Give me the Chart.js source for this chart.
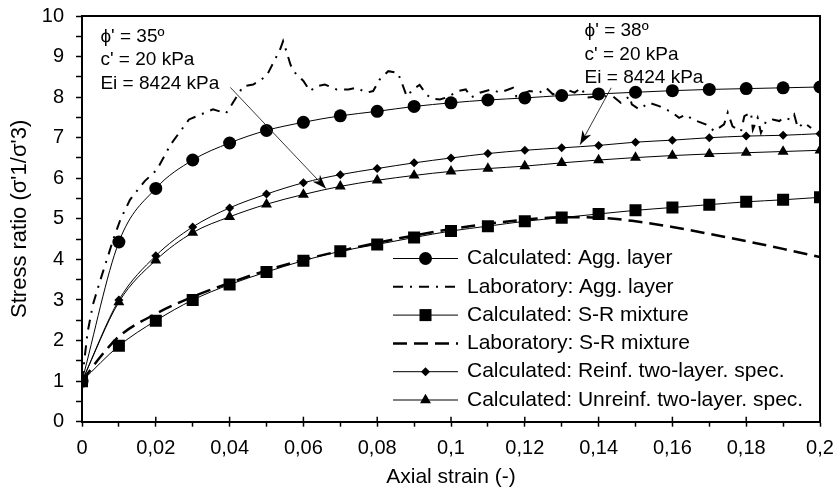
<!DOCTYPE html>
<html><head><meta charset="utf-8">
<script src="https://cdn.jsdelivr.net/npm/chart.js@4.4.1/dist/chart.umd.min.js"></script>
<style>html,body{margin:0;padding:0;background:#fff}#wrap{width:837px;height:490px}</style>
</head><body><div id="wrap"><canvas id="c" width="837" height="490"></canvas></div>
<script>
// ---- data ----
const strain = [0,0.01,0.02,0.03,0.04,0.05,0.06,0.07,0.08,0.09,0.10,0.11,0.12,0.13,0.14,0.15,0.16,0.17,0.18,0.19,0.20];
const calcAgg = [1,4.43,5.75,6.45,6.87,7.18,7.38,7.54,7.65,7.77,7.86,7.93,7.98,8.04,8.08,8.12,8.16,8.19,8.21,8.23,8.25];
const calcSR = [1,1.87,2.49,3.0,3.38,3.69,3.97,4.2,4.37,4.54,4.7,4.82,4.94,5.03,5.12,5.21,5.28,5.35,5.42,5.47,5.53];
const calcReinf = [1,3.0,4.09,4.8,5.27,5.61,5.89,6.09,6.24,6.38,6.5,6.61,6.69,6.75,6.81,6.89,6.94,7.0,7.04,7.06,7.1];
const calcUnreinf = [1,2.95,3.98,4.66,5.05,5.36,5.6,5.8,5.95,6.07,6.17,6.24,6.3,6.38,6.45,6.51,6.56,6.6,6.63,6.66,6.69];

const labAggStrain = [0,0.0015,0.003,0.005,0.0085,0.0104,0.013,0.017,0.0203,0.024,0.029,0.0355,0.039,0.0406,0.0437,0.0464,0.05,0.0537,0.0545,0.0555,0.0565,0.0573,0.06,0.0618,0.0636,0.0658,0.069,0.0722,0.0744,0.0771,0.0789,0.0807,0.083,0.0856,0.087,0.088,0.0897,0.0915,0.0935,0.095,0.097,0.099,0.102,0.104,0.1055,0.1078,0.111,0.1132,0.1168,0.1177,0.1213,0.124,0.1258,0.1276,0.1313,0.1335,0.1353,0.1367,0.1403,0.1439,0.146,0.1484,0.149,0.151,0.1537,0.1564,0.16,0.1618,0.1636,0.1655,0.169,0.1714,0.174,0.175,0.1763,0.1786,0.1795,0.1813,0.1818,0.1831,0.184,0.1854,0.1872,0.189,0.19,0.192,0.193,0.194,0.1957,0.1976];
const labAggRatio = [1,2.2,2.9,3.5,4.5,4.98,5.47,5.93,6.21,6.83,7.45,7.7,7.6,7.82,8.27,8.31,8.52,9.18,9.38,9.1,8.8,8.64,8.4,8.15,8.27,8.31,8.19,8.19,8.23,8.11,8.15,8.44,8.64,8.6,8.27,8.02,8.19,8.3,8.05,7.96,7.94,8.0,8.15,8.19,7.99,8.11,8.19,8.11,8.23,8.02,8.15,8.11,8.23,8.07,8.19,8.11,8.23,7.99,8.02,8.02,7.86,8.02,7.82,7.7,7.86,7.78,7.62,7.49,7.57,7.45,7.33,7.16,7.33,7.62,7.28,7.16,7.53,7.62,7.2,7.49,7.12,7.41,7.45,7.41,7.49,7.45,7.57,7.24,7.37,7.24];

const labSRStrain = [0,0.005,0.01,0.02,0.03,0.04,0.05,0.06,0.07,0.08,0.09,0.10,0.11,0.12,0.13,0.14,0.15,0.16,0.17,0.18,0.19,0.20];
const labSRRatio = [1,1.6,2.1,2.66,3.08,3.42,3.73,3.99,4.21,4.41,4.59,4.75,4.88,4.98,5.04,5.03,4.94,4.8,4.63,4.45,4.26,4.06];

const xTickLabels = ['0','0,02','0,04','0,06','0,08','0,1','0,12','0,14','0,16','0,18','0,2'];
const yTickLabels = ['0','1','2','3','4','5','6','7','8','9','10'];

const seriesNames = ['Calculated: Agg. layer','Laboratory: Agg. layer','Calculated: S-R mixture','Laboratory: S-R mixture','Calculated: Reinf. two-layer. spec.','Calculated: Unreinf. two-layer. spec.'];

const note1 = ["\u03D5' = 35\u00BA", "c' = 20 kPa", "Ei = 8424 kPa"];
const note2 = ["\u03D5' = 38\u00BA", "c' = 20 kPa", "Ei = 8424 kPa"];
const note1Anchor = [0.005, 9.49];
const note2Anchor = [0.1362, 9.63];
const arrow1 = [[0.0402, 8.24], [0.0661, 5.75]];
const arrow2 = [[0.1434, 8.23], [0.1350, 6.83]];

// ---- build ----
const FONT = "'Liberation Sans', Arial, sans-serif";
const pts = (xs, ys) => xs.map((x, i) => ({x, y: ys[i]}));
const DASHDOT = [10, 7, 2, 7];
const DASH = [14, 7];

const datasets = [
  {label: seriesNames[0], data: pts(strain, calcAgg), borderColor:'#000', backgroundColor:'#000', borderWidth:1, pointStyle:'circle', pointRadius:6.5, pointBorderWidth:0, cubicInterpolationMode:'monotone'},
  {label: seriesNames[1], data: pts(labAggStrain, labAggRatio), borderColor:'#000', borderWidth:2, borderDash:DASHDOT, pointRadius:0, tension:0},
  {label: seriesNames[2], data: pts(strain, calcSR), borderColor:'#000', backgroundColor:'#000', borderWidth:1, pointStyle:'rect', pointRadius:8.5, pointBorderWidth:0, cubicInterpolationMode:'monotone'},
  {label: seriesNames[3], data: pts(labSRStrain, labSRRatio), borderColor:'#000', borderWidth:2.5, borderDash:DASH, pointRadius:0, cubicInterpolationMode:'monotone'},
  {label: seriesNames[4], data: pts(strain, calcReinf), borderColor:'#000', backgroundColor:'#000', borderWidth:1, pointStyle:'rectRot', pointRadius:4.5, pointBorderWidth:0, cubicInterpolationMode:'monotone'},
  {label: seriesNames[5], data: pts(strain, calcUnreinf), borderColor:'#000', backgroundColor:'#000', borderWidth:1, pointStyle:'triangle', pointRadius:6.3, pointBorderWidth:0, cubicInterpolationMode:'monotone'}
];

function drawMarker(ctx, style, r, x, y) {
  ctx.beginPath();
  if (style === 'circle') { ctx.arc(x, y, r, 0, Math.PI*2); }
  else if (style === 'rect') { const s = Math.SQRT1_2*r; ctx.rect(x-s, y-s, 2*s, 2*s); }
  else if (style === 'rectRot') { ctx.moveTo(x-r,y); ctx.lineTo(x,y-r); ctx.lineTo(x+r,y); ctx.lineTo(x,y+r); ctx.closePath(); }
  else if (style === 'triangle') {
    let a = 0;
    ctx.moveTo(x + Math.sin(a)*r, y - Math.cos(a)*r);
    a += 2*Math.PI/3; ctx.lineTo(x + Math.sin(a)*r, y - Math.cos(a)*r);
    a += 2*Math.PI/3; ctx.lineTo(x + Math.sin(a)*r, y - Math.cos(a)*r);
    ctx.closePath();
  }
  ctx.fill();
}

function drawArrow(ctx, x1, y1, x2, y2) {
  ctx.save();
  ctx.strokeStyle = '#222'; ctx.fillStyle = '#000'; ctx.lineWidth = 0.9; ctx.setLineDash([]);
  ctx.beginPath(); ctx.moveTo(x1, y1); ctx.lineTo(x2, y2); ctx.stroke();
  const ang = Math.atan2(y2-y1, x2-x1), L = 14, W = 5;
  const bx = x2 - Math.cos(ang)*L, by = y2 - Math.sin(ang)*L;
  const nx = -Math.sin(ang), ny = Math.cos(ang);
  const mx = x2 - Math.cos(ang)*L*0.7, my = y2 - Math.sin(ang)*L*0.7;
  ctx.beginPath();
  ctx.moveTo(x2, y2);
  ctx.lineTo(bx + nx*W, by + ny*W);
  ctx.lineTo(mx, my);
  ctx.lineTo(bx - nx*W, by - ny*W);
  ctx.closePath(); ctx.fill();
  ctx.restore();
}

const extras = {
  id: 'extras',
  afterDraw(chart) {
    const ctx = chart.ctx, a = chart.chartArea, xs = chart.scales.x, ys = chart.scales.y;
    ctx.save();
    ctx.strokeStyle = '#000'; ctx.lineWidth = 2; ctx.setLineDash([]);
    ctx.beginPath(); ctx.moveTo(a.left, a.top); ctx.lineTo(a.right, a.top); ctx.lineTo(a.right, a.bottom); ctx.stroke();
    ctx.lineWidth = 1.5;
    xs.ticks.forEach(t => {
      const i = Math.round(t.value*100);
      if (i % 2 === 0 && i > 0 && i < 20) {
        const px = xs.getPixelForValue(t.value);
        ctx.beginPath(); ctx.moveTo(px, a.bottom); ctx.lineTo(px, a.bottom - 5); ctx.stroke();
      }
    });
    ctx.fillStyle = '#000'; ctx.font = '19px ' + FONT; ctx.textBaseline = 'middle'; ctx.textAlign = 'left';
    const drawNote = (lines, anc) => {
      const px = xs.getPixelForValue(anc[0]), py = ys.getPixelForValue(anc[1]);
      lines.forEach((s, i) => ctx.fillText(s, px, py + i*23.3));
    };
    drawNote(note1, note1Anchor);
    drawNote(note2, note2Anchor);
    [arrow1, arrow2].forEach(ar => drawArrow(ctx, xs.getPixelForValue(ar[0][0]), ys.getPixelForValue(ar[0][1]), xs.getPixelForValue(ar[1][0]), ys.getPixelForValue(ar[1][1])));
    const lx0 = 393, lx1 = 458, tx = 467, ly0 = 258.5, step = 28.3;
    ctx.font = '21px ' + FONT;
    chart.data.datasets.forEach((ds, i) => {
      const y = ly0 + i*step;
      ctx.strokeStyle = '#000'; ctx.lineWidth = ds.borderWidth; ctx.setLineDash(ds.borderDash || []);
      ctx.beginPath(); ctx.moveTo(lx0, y); ctx.lineTo(lx1, y); ctx.stroke();
      ctx.setLineDash([]);
      if (ds.pointRadius > 0) { ctx.fillStyle = '#000'; drawMarker(ctx, ds.pointStyle, ds.pointRadius, (lx0+lx1)/2, y); }
      ctx.fillStyle = '#000';
      ctx.fillText(ds.label, tx, y);
    });
    ctx.restore();
  }
};

const zeroPad = s => { s.paddingLeft = 0; s.paddingRight = 0; s.paddingTop = 0; s.paddingBottom = 0; };

new Chart(document.getElementById('c'), {
  type: 'line',
  data: {datasets},
  options: {
    responsive: false, devicePixelRatio: 1, animation: false,
    layout: {padding: {top: 16, right: 17, left: 0, bottom: 0}},
    plugins: {legend: {display: false}, tooltip: {enabled: false}},
    scales: {
      x: {
        type: 'linear', min: 0, max: 0.2,
        ticks: {stepSize: 0.01, autoSkip: false, maxRotation: 0, color: '#000', font: {family: FONT, size: 20}, padding: 10,
          callback: v => { const i = Math.round(v*100); return i % 2 === 0 ? xTickLabels[i/2] : ''; }},
        grid: {drawOnChartArea: false, drawTicks: true, tickLength: 5, tickColor: '#000', tickWidth: 1.5},
        border: {color: '#000', width: 2},
        title: {display: true, text: 'Axial strain (-)', color: '#000', font: {family: FONT, size: 21}, padding: {top: 0, bottom: 0}},
        afterFit: s => { s.height = 68.3; zeroPad(s); }
      },
      y: {
        min: 0, max: 10,
        ticks: {stepSize: 0.5, autoSkip: false, color: '#000', font: {family: FONT, size: 20}, padding: 12,
          callback: v => Number.isInteger(v) ? yTickLabels[v] : ''},
        grid: {drawOnChartArea: false, drawTicks: true, tickLength: 6, tickColor: '#000', tickWidth: 1.5},
        border: {color: '#000', width: 2},
        title: {display: true, text: "Stress ratio (\u03C3'1/\u03C3'3)", color: '#000', font: {family: FONT, size: 22}, padding: {top: 7, bottom: 0}},
        afterFit: s => { s.width = 82; zeroPad(s); }
      }
    }
  },
  plugins: [extras]
});
</script></body></html>
